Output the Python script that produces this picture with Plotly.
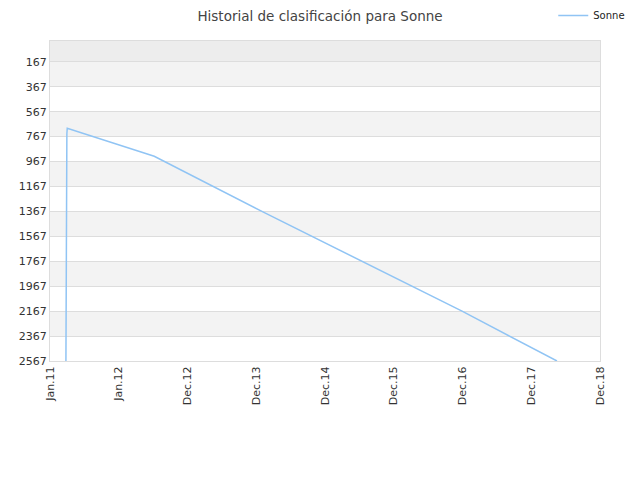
import plotly.graph_objects as go
import pandas as pd

# ranking history (lower = better, axis reversed)
dates = ["2011-03-26", "2011-03-27", "2011-03-29", "2011-03-30", "2011-03-31",
         "2011-04-02", "2012-07-04", "2014-01-23", "2015-07-05", "2016-12-14", "2018-04-29"]
ranks = [2567, 865, 865, 745, 745, 700, 925, 1367, 1767, 2167, 2567]

tick_dates = ["2011-01-01", "2011-12-30", "2012-12-27", "2013-12-25", "2014-12-22",
              "2015-12-20", "2016-12-17", "2017-12-15", "2018-12-12"]
tick_text = ["Jan.11", "Jan.12", "Dec.12", "Dec.13", "Dec.14", "Dec.15", "Dec.16", "Dec.17", "Dec.18"]
y_ticks = [167, 367, 567, 767, 967, 1167, 1367, 1567, 1767, 1967, 2167, 2367, 2567]
y_top = 0

fig = go.Figure()
fig.add_trace(go.Scatter(x=pd.to_datetime(dates), y=ranks, mode="lines", name="Sonne",
                         line=dict(color="#90c4f4", width=1.5)))

# alternating bands between gridlines
shapes = [dict(type="rect", xref="paper", x0=0, x1=1, yref="y", y0=y_top, y1=y_ticks[0],
               fillcolor="#ededed", line_width=0, layer="below")]
for i in range(0, len(y_ticks) - 1, 2):
    shapes.append(dict(type="rect", xref="paper", x0=0, x1=1, yref="y",
                       y0=y_ticks[i], y1=y_ticks[i + 1],
                       fillcolor="#f3f3f3", line_width=0, layer="below"))

# the page body adds an 8px offset, so margins are shifted to compensate
fig.update_layout(
    width=640, height=480,
    margin=dict(l=42, r=48, t=33, b=127, autoexpand=False),
    paper_bgcolor="white", plot_bgcolor="white",
    font=dict(family="DejaVu Sans", size=11, color="#333"),
    title=dict(text="Historial de clasificación para Sonne", x=0.4875, xanchor="center",
               y=0.982, yanchor="middle", font=dict(size=13.5, color="#444")),
    showlegend=True,
    legend=dict(x=1.055, xanchor="right", y=1.125, yanchor="top",
                font=dict(size=10, color="#222"), bgcolor="rgba(0,0,0,0)",
                itemwidth=30),
    shapes=shapes,
    xaxis=dict(range=[pd.Timestamp(tick_dates[0]), pd.Timestamp(tick_dates[-1])],
               tickvals=pd.to_datetime(tick_dates), ticktext=tick_text, tickangle=-90,
               showgrid=False, showline=True, linecolor="#ddd", mirror=True, automargin=False,
               ticks="", zeroline=False, tickfont=dict(size=11, color="#333")),
    yaxis=dict(range=[2567, y_top], tickvals=y_ticks, showgrid=True, gridcolor="#dddddd",
               showline=True, linecolor="#ddd", mirror=True, zeroline=False, ticks="",
               automargin=False, tickfont=dict(size=11, color="#333")),
)

fig.write_html("out.html")
